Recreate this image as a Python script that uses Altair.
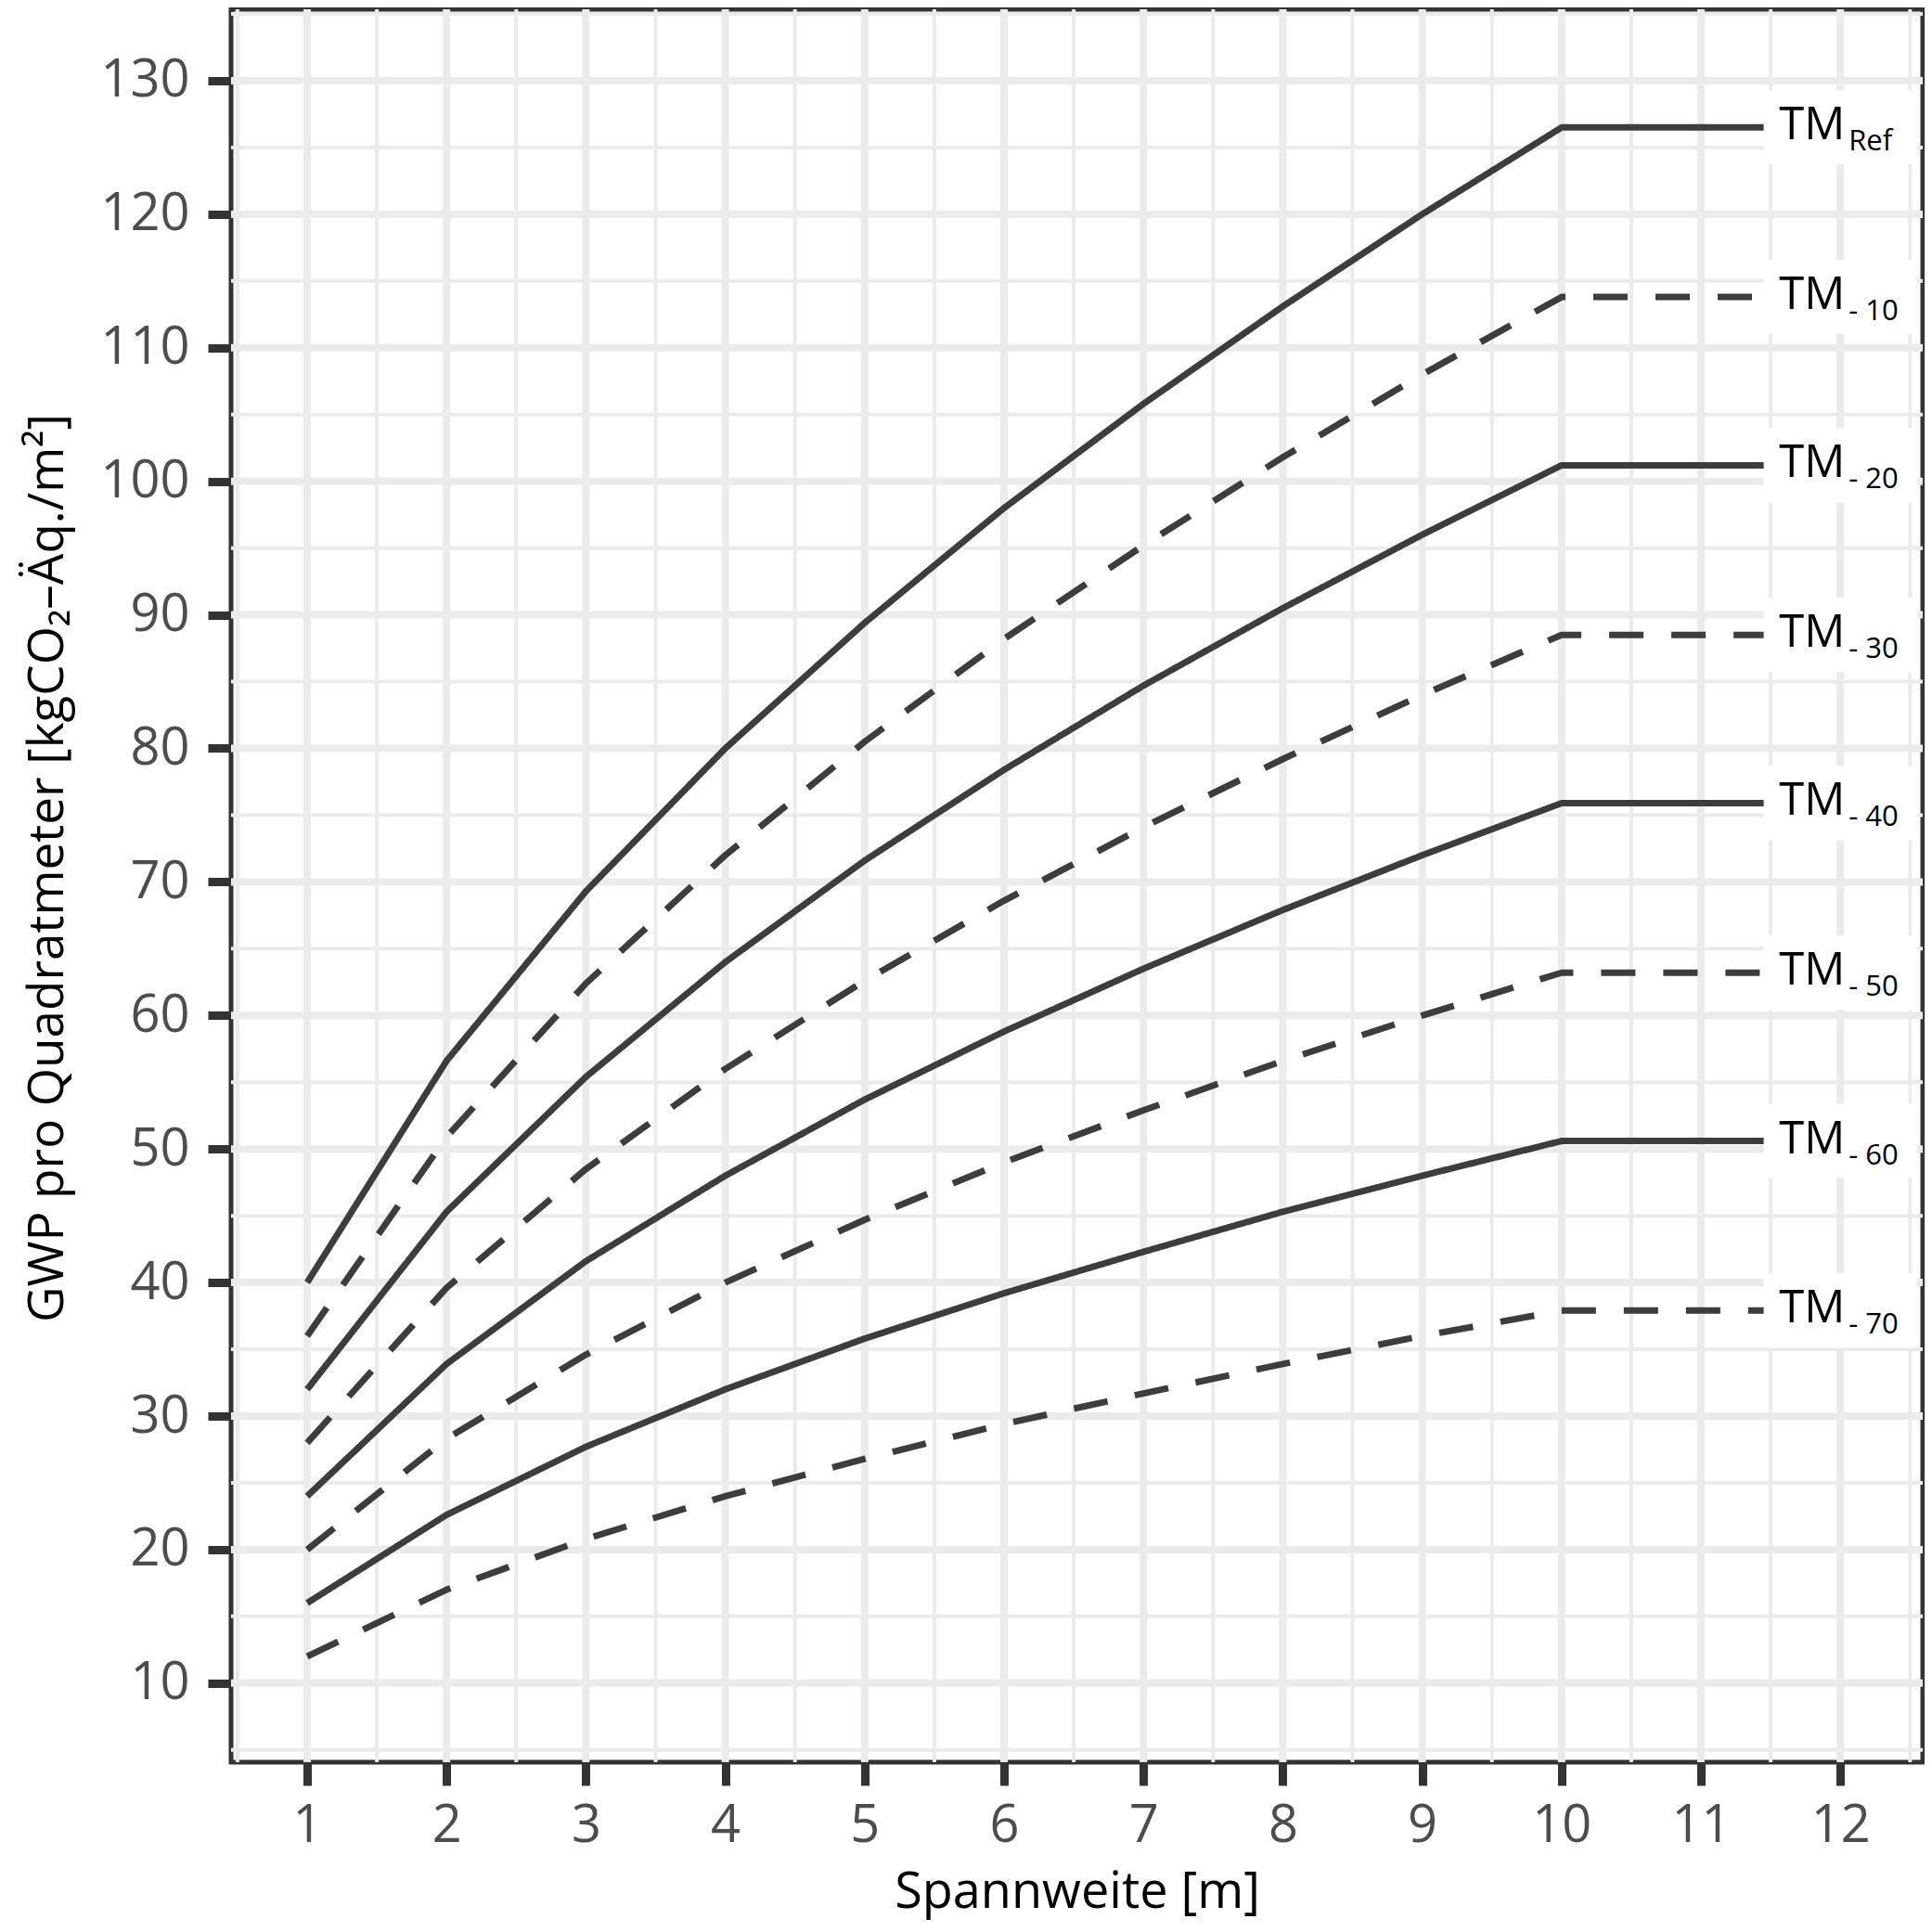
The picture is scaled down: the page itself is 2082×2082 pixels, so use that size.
import altair as alt
import pandas as pd

# Spannweite [m] on the x axis
spans = [1, 2, 3, 4, 5, 6, 7, 8, 9, 10]

# GWP values per series
tm_ref = [40.0, 56.6, 69.3, 80.0, 89.4, 98.0, 105.8, 113.1, 120.0, 126.5]
tm_10 = [36.0, 50.9, 62.4, 72.0, 80.5, 88.2, 95.2, 101.8, 108.0, 113.8]
tm_20 = [32.0, 45.3, 55.4, 64.0, 71.6, 78.4, 84.7, 90.5, 96.0, 101.2]
tm_30 = [28.0, 39.6, 48.5, 56.0, 62.6, 68.6, 74.1, 79.2, 84.0, 88.5]
tm_40 = [24.0, 33.9, 41.6, 48.0, 53.7, 58.8, 63.5, 67.9, 72.0, 75.9]
tm_50 = [20.0, 28.3, 34.6, 40.0, 44.7, 49.0, 52.9, 56.6, 60.0, 63.2]
tm_60 = [16.0, 22.6, 27.7, 32.0, 35.8, 39.2, 42.3, 45.3, 48.0, 50.6]
tm_70 = [12.0, 17.0, 20.8, 24.0, 26.8, 29.4, 31.7, 33.9, 36.0, 37.9]

series_values = [tm_ref, tm_10, tm_20, tm_30, tm_40, tm_50, tm_60, tm_70]
series_ids = ["Ref", "-10", "-20", "-30", "-40", "-50", "-60", "-70"]
sub_labels = ["Ref", "- 10", "- 20", "- 30", "- 40", "- 50", "- 60", "- 70"]
line_styles = ["solid", "dashed", "solid", "dashed", "solid", "dashed", "solid", "dashed"]

# axis ticks and grid
x_ticks = list(range(1, 13))
y_ticks = list(range(10, 131, 10))
x_minor = [0.5 + i for i in range(13)]
y_minor = [5 + 10 * i for i in range(14)]

LINE_COLOR = "#3d3d3d"
GRID_COLOR = "#ebebeb"
FONT = "Open Sans"

# long table: each series runs flat from x=10 on to x=12 (under its label)
rows = []
for sid, style, vals in zip(series_ids, line_styles, series_values):
    for x, v in zip(spans + [12], vals + [vals[-1]]):
        rows.append({"series": sid, "style": style, "span": x, "gwp": v})
df = pd.DataFrame(rows)

labels = pd.DataFrame({
    "series": series_ids,
    "main": ["TM"] * len(series_ids),
    "sub": sub_labels,
    "end": [vals[-1] for vals in series_values],
})

x_scale = alt.Scale(domain=[0.454, 12.591], nice=False, zero=False)
y_scale = alt.Scale(domain=[4.08, 135.35], nice=False, zero=False)

x_axis = alt.Axis(
    values=x_ticks, format="d", title="Spannweite [m]", grid=False, domain=False,
    tickSize=25, tickWidth=9, tickColor="#333333",
    labelFontSize=56, labelColor="#4d4d4d", labelFont=FONT, labelPadding=16,
    labelFlush=False,
    titleFontSize=54, titleFont=FONT, titleColor="#000000", titleFontWeight="normal",
    titleBaseline="alphabetic", titleY=156,
)
y_axis = alt.Axis(
    values=y_ticks, format="d", title="GWP pro Quadratmeter [kgCO₂–Äq./m²]",
    grid=False, domain=False,
    tickSize=25, tickWidth=9, tickColor="#333333",
    labelFontSize=56, labelColor="#4d4d4d", labelFont=FONT, labelPadding=20,
    labelFlush=False,
    titleFontSize=53, titleFont=FONT, titleColor="#000000", titleFontWeight="normal",
    titleAngle=270, titleBaseline="middle", titleX=-198, titleY=925,
)

# grid lines (major thick, minor thin)
gx_major = alt.Chart(pd.DataFrame({"v": x_ticks})).mark_rule(
    color=GRID_COLOR, strokeWidth=8
).encode(x=alt.X("v:Q", scale=x_scale, axis=x_axis))
gx_minor = alt.Chart(pd.DataFrame({"v": x_minor})).mark_rule(
    color=GRID_COLOR, strokeWidth=4
).encode(x=alt.X("v:Q", scale=x_scale))
gy_major = alt.Chart(pd.DataFrame({"v": y_ticks})).mark_rule(
    color=GRID_COLOR, strokeWidth=8
).encode(y=alt.Y("v:Q", scale=y_scale, axis=y_axis))
gy_minor = alt.Chart(pd.DataFrame({"v": y_minor})).mark_rule(
    color=GRID_COLOR, strokeWidth=4
).encode(y=alt.Y("v:Q", scale=y_scale))

lines = alt.Chart(df).mark_line(
    color=LINE_COLOR, strokeWidth=7, strokeCap="butt", strokeJoin="round"
).encode(
    x=alt.X("span:Q", scale=x_scale),
    y=alt.Y("gwp:Q", scale=y_scale),
    detail="series:N",
    strokeDash=alt.StrokeDash(
        "style:N",
        scale=alt.Scale(domain=["solid", "dashed"], range=[[1, 0], [37, 30]]),
        legend=None,
    ),
)

# white label boxes that hide grid and line ends
boxes = alt.Chart(labels).transform_calculate(
    y0="datum.end - 2.78", y1="datum.end + 2.78"
).mark_rect(color="white").encode(
    x=alt.datum(11.45, scale=x_scale),
    x2=alt.datum(12.55),
    y=alt.Y("y0:Q", scale=y_scale),
    y2="y1:Q",
)

main_text = alt.Chart(labels).mark_text(
    align="left", baseline="alphabetic", dx=-66, dy=13,
    fontSize=49, font=FONT, color="#000000",
).encode(
    x=alt.datum(12, scale=x_scale),
    y=alt.Y("end:Q", scale=y_scale),
    text="main:N",
)

sub_text = alt.Chart(labels).mark_text(
    align="left", baseline="alphabetic", dx=9, dy=25,
    fontSize=31, font=FONT, color="#000000",
).encode(
    x=alt.datum(12, scale=x_scale),
    y=alt.Y("end:Q", scale=y_scale),
    text="sub:N",
)

chart = alt.layer(
    gx_minor, gy_minor, gx_major, gy_major, lines, boxes, main_text, sub_text
).properties(
    width=1823,
    height=1889,
    padding={"left": 241, "top": 2, "right": 2, "bottom": 175},
    autosize=alt.AutoSizeParams(type="none"),
    background="white",
).configure_view(
    stroke="#333333", strokeWidth=5
)

chart.save("out.html", embed_options={"renderer": "svg", "actions": False})
